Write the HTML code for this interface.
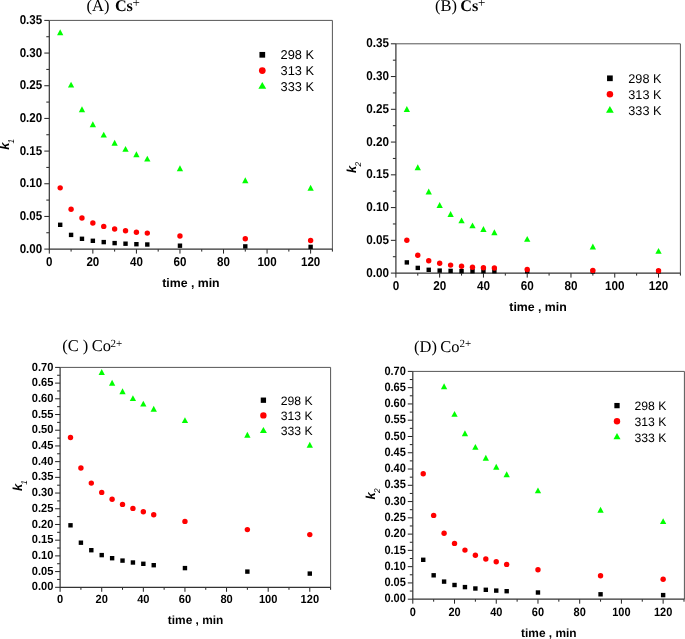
<!DOCTYPE html>
<html><head><meta charset="utf-8"><style>
html,body{margin:0;padding:0;background:#fff;}
svg{display:block;will-change:transform;text-rendering:geometricPrecision;}
</style></head><body>
<svg width="685" height="639" viewBox="0 0 685 639">
<rect width="685" height="639" fill="#fff"/>
<g><path d="M49.3 20.4H332.4V249.1" fill="none" stroke="#555" stroke-width="1"/>
<path d="M44.3 249.1H49.3M46.3 232.76H49.3M44.3 216.43H49.3M46.3 200.09H49.3M44.3 183.76H49.3M46.3 167.42H49.3M44.3 151.09H49.3M46.3 134.75H49.3M44.3 118.41H49.3M46.3 102.08H49.3M44.3 85.74H49.3M46.3 69.41H49.3M44.3 53.07H49.3M46.3 36.74H49.3M44.3 20.4H49.3M49.3 249.1V253.6M71.08 249.1V251.6M92.85 249.1V253.6M114.63 249.1V251.6M136.41 249.1V253.6M158.18 249.1V251.6M179.96 249.1V253.6M201.74 249.1V251.6M223.52 249.1V253.6M245.29 249.1V251.6M267.07 249.1V253.6M288.85 249.1V251.6M310.62 249.1V253.6M332.4 249.1V251.6" stroke="#222" stroke-width="1"/>
<path d="M49.3 20.4V249.1H332.4" fill="none" stroke="#333" stroke-width="1.2"/>
<g font-family='"Liberation Sans", sans-serif' font-weight="bold" font-size="11.6" text-anchor="end"><text transform="translate(42.25 252.57) scale(1 1.1)">0.00</text><text transform="translate(42.25 219.89) scale(1 1.1)">0.05</text><text transform="translate(42.25 187.22) scale(1 1.1)">0.10</text><text transform="translate(42.25 154.55) scale(1 1.1)">0.15</text><text transform="translate(42.25 121.88) scale(1 1.1)">0.20</text><text transform="translate(42.25 89.21) scale(1 1.1)">0.25</text><text transform="translate(42.25 56.54) scale(1 1.1)">0.30</text><text transform="translate(42.25 23.87) scale(1 1.1)">0.35</text></g>
<g font-family='"Liberation Sans", sans-serif' font-weight="bold" font-size="11.6" text-anchor="middle"><text transform="translate(49.3 265.57) scale(1 1.1)">0</text><text transform="translate(92.85 265.57) scale(1 1.1)">20</text><text transform="translate(136.41 265.57) scale(1 1.1)">40</text><text transform="translate(179.96 265.57) scale(1 1.1)">60</text><text transform="translate(223.52 265.57) scale(1 1.1)">80</text><text transform="translate(267.07 265.57) scale(1 1.1)">100</text><text transform="translate(310.62 265.57) scale(1 1.1)">120</text></g>
<rect x="57.99" y="222.6" width="4.4" height="4.4" fill="#000"/>
<rect x="68.88" y="232.7" width="4.4" height="4.4" fill="#000"/>
<rect x="79.77" y="236.6" width="4.4" height="4.4" fill="#000"/>
<rect x="90.65" y="238.6" width="4.4" height="4.4" fill="#000"/>
<rect x="101.54" y="239.9" width="4.4" height="4.4" fill="#000"/>
<rect x="112.43" y="240.9" width="4.4" height="4.4" fill="#000"/>
<rect x="123.32" y="241.5" width="4.4" height="4.4" fill="#000"/>
<rect x="134.21" y="242" width="4.4" height="4.4" fill="#000"/>
<rect x="145.1" y="242.3" width="4.4" height="4.4" fill="#000"/>
<rect x="177.76" y="243.5" width="4.4" height="4.4" fill="#000"/>
<rect x="243.09" y="244.2" width="4.4" height="4.4" fill="#000"/>
<rect x="308.42" y="244.7" width="4.4" height="4.4" fill="#000"/>
<circle cx="60.19" cy="187.85" r="2.7" fill="#f00"/>
<circle cx="71.08" cy="209.2" r="2.7" fill="#f00"/>
<circle cx="81.97" cy="218" r="2.7" fill="#f00"/>
<circle cx="92.85" cy="223" r="2.7" fill="#f00"/>
<circle cx="103.74" cy="226.4" r="2.7" fill="#f00"/>
<circle cx="114.63" cy="229" r="2.7" fill="#f00"/>
<circle cx="125.52" cy="230.7" r="2.7" fill="#f00"/>
<circle cx="136.41" cy="232.2" r="2.7" fill="#f00"/>
<circle cx="147.3" cy="233.1" r="2.7" fill="#f00"/>
<circle cx="179.96" cy="236" r="2.7" fill="#f00"/>
<circle cx="245.29" cy="238.7" r="2.7" fill="#f00"/>
<circle cx="310.62" cy="240.5" r="2.7" fill="#f00"/>
<path d="M60.19 29.35L63.34 35.25L57.04 35.25Z" fill="#0f0"/>
<path d="M71.08 81.65L74.23 87.55L67.93 87.55Z" fill="#0f0"/>
<path d="M81.97 106.35L85.12 112.25L78.82 112.25Z" fill="#0f0"/>
<path d="M92.85 121.25L96 127.15L89.7 127.15Z" fill="#0f0"/>
<path d="M103.74 131.65L106.89 137.55L100.59 137.55Z" fill="#0f0"/>
<path d="M114.63 139.75L117.78 145.65L111.48 145.65Z" fill="#0f0"/>
<path d="M125.52 145.95L128.67 151.85L122.37 151.85Z" fill="#0f0"/>
<path d="M136.41 151.35L139.56 157.25L133.26 157.25Z" fill="#0f0"/>
<path d="M147.3 155.65L150.45 161.55L144.15 161.55Z" fill="#0f0"/>
<path d="M179.96 165.35L183.11 171.25L176.81 171.25Z" fill="#0f0"/>
<path d="M245.29 177.25L248.44 183.15L242.14 183.15Z" fill="#0f0"/>
<path d="M310.62 184.75L313.77 190.65L307.47 190.65Z" fill="#0f0"/>
<rect x="259.45" y="51.95" width="5.7" height="5.7" fill="#000"/>
<circle cx="262.3" cy="70.6" r="3.35" fill="#f00"/>
<path d="M262.3 82L266.2 88.8L258.4 88.8Z" fill="#0f0"/>
<g font-family='"Liberation Sans", sans-serif' font-size="12.8" fill="#000"><text x="280.6" y="59.3">298 K</text><text x="280.6" y="75.4">313 K</text><text x="280.6" y="91.4">333 K</text></g>
<text x="86.6" y="11.3" font-family='"Liberation Serif", serif' font-weight="normal" font-size="16.5">(A)</text>
<text x="114.9" y="11.3" font-family='"Liberation Serif", serif' font-weight="bold" font-size="16.2">Cs</text>
<text x="132.6" y="7" font-family='"Liberation Serif", serif' font-size="13">+</text>
<text x="162.2" y="286.8" font-family='"Liberation Sans", sans-serif' font-weight="bold" font-size="12.3">time , min</text>
<text transform="translate(9.4 149.8) rotate(-90)" font-family='"Liberation Sans", sans-serif' font-weight="bold" font-style="italic" font-size="13">k<tspan font-size="8.4" font-weight="normal" dx="-0.9" dy="4.9">1</tspan></text></g>
<g><path d="M395.9 43.8H680.4V273.1" fill="none" stroke="#555" stroke-width="1"/>
<path d="M390.9 273.1H395.9M392.9 256.72H395.9M390.9 240.34H395.9M392.9 223.96H395.9M390.9 207.59H395.9M392.9 191.21H395.9M390.9 174.83H395.9M392.9 158.45H395.9M390.9 142.07H395.9M392.9 125.69H395.9M390.9 109.31H395.9M392.9 92.94H395.9M390.9 76.56H395.9M392.9 60.18H395.9M390.9 43.8H395.9M395.9 273.1V277.6M417.78 273.1V275.6M439.67 273.1V277.6M461.55 273.1V275.6M483.44 273.1V277.6M505.32 273.1V275.6M527.21 273.1V277.6M549.09 273.1V275.6M570.98 273.1V277.6M592.86 273.1V275.6M614.75 273.1V277.6M636.63 273.1V275.6M658.52 273.1V277.6M680.4 273.1V275.6" stroke="#222" stroke-width="1"/>
<path d="M395.9 43.8V273.1H680.4" fill="none" stroke="#333" stroke-width="1.2"/>
<g font-family='"Liberation Sans", sans-serif' font-weight="bold" font-size="11.7" text-anchor="end"><text transform="translate(388.95 276.6) scale(1 1.1)">0.00</text><text transform="translate(388.95 243.85) scale(1 1.1)">0.05</text><text transform="translate(388.95 211.09) scale(1 1.1)">0.10</text><text transform="translate(388.95 178.33) scale(1 1.1)">0.15</text><text transform="translate(388.95 145.58) scale(1 1.1)">0.20</text><text transform="translate(388.95 112.82) scale(1 1.1)">0.25</text><text transform="translate(388.95 80.06) scale(1 1.1)">0.30</text><text transform="translate(388.95 47.3) scale(1 1.1)">0.35</text></g>
<g font-family='"Liberation Sans", sans-serif' font-weight="bold" font-size="11.7" text-anchor="middle"><text transform="translate(395.9 289.7) scale(1 1.1)">0</text><text transform="translate(439.67 289.7) scale(1 1.1)">20</text><text transform="translate(483.44 289.7) scale(1 1.1)">40</text><text transform="translate(527.21 289.7) scale(1 1.1)">60</text><text transform="translate(570.98 289.7) scale(1 1.1)">80</text><text transform="translate(614.75 289.7) scale(1 1.1)">100</text><text transform="translate(658.52 289.7) scale(1 1.1)">120</text></g>
<rect x="404.64" y="260.2" width="4.4" height="4.4" fill="#000"/>
<rect x="415.58" y="265.7" width="4.4" height="4.4" fill="#000"/>
<rect x="426.53" y="267.6" width="4.4" height="4.4" fill="#000"/>
<rect x="437.47" y="268.4" width="4.4" height="4.4" fill="#000"/>
<rect x="448.41" y="268.7" width="4.4" height="4.4" fill="#000"/>
<rect x="459.35" y="269" width="4.4" height="4.4" fill="#000"/>
<rect x="470.3" y="269" width="4.4" height="4.4" fill="#000"/>
<rect x="481.24" y="269" width="4.4" height="4.4" fill="#000"/>
<rect x="492.18" y="269" width="4.4" height="4.4" fill="#000"/>
<rect x="525.01" y="269.1" width="4.4" height="4.4" fill="#000"/>
<rect x="590.66" y="269.2" width="4.4" height="4.4" fill="#000"/>
<rect x="656.32" y="269.2" width="4.4" height="4.4" fill="#000"/>
<circle cx="406.84" cy="240.3" r="2.7" fill="#f00"/>
<circle cx="417.78" cy="255.2" r="2.7" fill="#f00"/>
<circle cx="428.73" cy="260.7" r="2.7" fill="#f00"/>
<circle cx="439.67" cy="263.2" r="2.7" fill="#f00"/>
<circle cx="450.61" cy="265.1" r="2.7" fill="#f00"/>
<circle cx="461.55" cy="266.3" r="2.7" fill="#f00"/>
<circle cx="472.5" cy="267.2" r="2.7" fill="#f00"/>
<circle cx="483.44" cy="267.7" r="2.7" fill="#f00"/>
<circle cx="494.38" cy="268" r="2.7" fill="#f00"/>
<circle cx="527.21" cy="269.5" r="2.7" fill="#f00"/>
<circle cx="592.86" cy="270.4" r="2.7" fill="#f00"/>
<circle cx="658.52" cy="270.7" r="2.7" fill="#f00"/>
<path d="M406.84 106.05L409.99 111.95L403.69 111.95Z" fill="#0f0"/>
<path d="M417.78 164.35L420.93 170.25L414.63 170.25Z" fill="#0f0"/>
<path d="M428.73 188.55L431.88 194.45L425.58 194.45Z" fill="#0f0"/>
<path d="M439.67 202.05L442.82 207.95L436.52 207.95Z" fill="#0f0"/>
<path d="M450.61 211.05L453.76 216.95L447.46 216.95Z" fill="#0f0"/>
<path d="M461.55 217.45L464.7 223.35L458.4 223.35Z" fill="#0f0"/>
<path d="M472.5 222.45L475.65 228.35L469.35 228.35Z" fill="#0f0"/>
<path d="M483.44 226.05L486.59 231.95L480.29 231.95Z" fill="#0f0"/>
<path d="M494.38 229.35L497.53 235.25L491.23 235.25Z" fill="#0f0"/>
<path d="M527.21 235.95L530.36 241.85L524.06 241.85Z" fill="#0f0"/>
<path d="M592.86 243.55L596.01 249.45L589.71 249.45Z" fill="#0f0"/>
<path d="M658.52 247.95L661.67 253.85L655.37 253.85Z" fill="#0f0"/>
<rect x="607.05" y="75.45" width="5.7" height="5.7" fill="#000"/>
<circle cx="609.9" cy="94.2" r="3.25" fill="#f00"/>
<path d="M609.9 105.95L613.75 112.65L606.05 112.65Z" fill="#0f0"/>
<g font-family='"Liberation Sans", sans-serif' font-size="12.7" fill="#000"><text x="628.3" y="83.2">298 K</text><text x="628.3" y="99">313 K</text><text x="628.3" y="114.7">333 K</text></g>
<text x="435" y="11.3" font-family='"Liberation Serif", serif' font-weight="normal" font-size="16.5">(B)</text>
<text x="460.2" y="11.3" font-family='"Liberation Serif", serif' font-weight="bold" font-size="16.2">Cs</text>
<text x="477.9" y="7" font-family='"Liberation Serif", serif' font-size="13">+</text>
<text x="509.3" y="311" font-family='"Liberation Sans", sans-serif' font-weight="bold" font-size="12.3">time , min</text>
<text transform="translate(356.4 172.9) rotate(-90)" font-family='"Liberation Sans", sans-serif' font-weight="bold" font-style="italic" font-size="13">k<tspan font-size="8.4" font-weight="normal" dx="-0.9" dy="4.9">2</tspan></text></g>
<g><path d="M60.1 367.4H330.6V587.3" fill="none" stroke="#555" stroke-width="1"/>
<path d="M55.1 587.3H60.1M57.1 579.45H60.1M55.1 571.59H60.1M57.1 563.74H60.1M55.1 555.89H60.1M57.1 548.03H60.1M55.1 540.18H60.1M57.1 532.32H60.1M55.1 524.47H60.1M57.1 516.62H60.1M55.1 508.76H60.1M57.1 500.91H60.1M55.1 493.06H60.1M57.1 485.2H60.1M55.1 477.35H60.1M57.1 469.5H60.1M55.1 461.64H60.1M57.1 453.79H60.1M55.1 445.94H60.1M57.1 438.08H60.1M55.1 430.23H60.1M57.1 422.38H60.1M55.1 414.52H60.1M57.1 406.67H60.1M55.1 398.81H60.1M57.1 390.96H60.1M55.1 383.11H60.1M57.1 375.25H60.1M55.1 367.4H60.1M60.1 587.3V591.8M80.91 587.3V589.8M101.72 587.3V591.8M122.52 587.3V589.8M143.33 587.3V591.8M164.14 587.3V589.8M184.95 587.3V591.8M205.75 587.3V589.8M226.56 587.3V591.8M247.37 587.3V589.8M268.18 587.3V591.8M288.98 587.3V589.8M309.79 587.3V591.8M330.6 587.3V589.8" stroke="#222" stroke-width="1"/>
<path d="M60.1 367.4V587.3H330.6" fill="none" stroke="#333" stroke-width="1.2"/>
<g font-family='"Liberation Sans", sans-serif' font-weight="bold" font-size="11.1" text-anchor="end"><text transform="translate(53.33 590.42) scale(1 1.06)">0.00</text><text transform="translate(53.33 574.71) scale(1 1.06)">0.05</text><text transform="translate(53.33 559) scale(1 1.06)">0.10</text><text transform="translate(53.33 543.3) scale(1 1.06)">0.15</text><text transform="translate(53.33 527.59) scale(1 1.06)">0.20</text><text transform="translate(53.33 511.88) scale(1 1.06)">0.25</text><text transform="translate(53.33 496.18) scale(1 1.06)">0.30</text><text transform="translate(53.33 480.47) scale(1 1.06)">0.35</text><text transform="translate(53.33 464.76) scale(1 1.06)">0.40</text><text transform="translate(53.33 449.05) scale(1 1.06)">0.45</text><text transform="translate(53.33 433.35) scale(1 1.06)">0.50</text><text transform="translate(53.33 417.64) scale(1 1.06)">0.55</text><text transform="translate(53.33 401.93) scale(1 1.06)">0.60</text><text transform="translate(53.33 386.23) scale(1 1.06)">0.65</text><text transform="translate(53.33 370.52) scale(1 1.06)">0.70</text></g>
<g font-family='"Liberation Sans", sans-serif' font-weight="bold" font-size="11.1" text-anchor="middle"><text transform="translate(60.1 603.32) scale(1 1.06)">0</text><text transform="translate(101.72 603.32) scale(1 1.06)">20</text><text transform="translate(143.33 603.32) scale(1 1.06)">40</text><text transform="translate(184.95 603.32) scale(1 1.06)">60</text><text transform="translate(226.56 603.32) scale(1 1.06)">80</text><text transform="translate(268.18 603.32) scale(1 1.06)">100</text><text transform="translate(309.79 603.32) scale(1 1.06)">120</text></g>
<rect x="68.3" y="523.1" width="4.4" height="4.4" fill="#000"/>
<rect x="78.71" y="540.5" width="4.4" height="4.4" fill="#000"/>
<rect x="89.11" y="548" width="4.4" height="4.4" fill="#000"/>
<rect x="99.52" y="552.9" width="4.4" height="4.4" fill="#000"/>
<rect x="109.92" y="556" width="4.4" height="4.4" fill="#000"/>
<rect x="120.32" y="558.4" width="4.4" height="4.4" fill="#000"/>
<rect x="130.73" y="560.3" width="4.4" height="4.4" fill="#000"/>
<rect x="141.13" y="561.6" width="4.4" height="4.4" fill="#000"/>
<rect x="151.53" y="563" width="4.4" height="4.4" fill="#000"/>
<rect x="182.75" y="565.9" width="4.4" height="4.4" fill="#000"/>
<rect x="245.17" y="569.4" width="4.4" height="4.4" fill="#000"/>
<rect x="307.59" y="571.4" width="4.4" height="4.4" fill="#000"/>
<circle cx="70.5" cy="437.5" r="2.7" fill="#f00"/>
<circle cx="80.91" cy="468" r="2.7" fill="#f00"/>
<circle cx="91.31" cy="483.1" r="2.7" fill="#f00"/>
<circle cx="101.72" cy="492.4" r="2.7" fill="#f00"/>
<circle cx="112.12" cy="499.3" r="2.7" fill="#f00"/>
<circle cx="122.52" cy="504.4" r="2.7" fill="#f00"/>
<circle cx="132.93" cy="508.4" r="2.7" fill="#f00"/>
<circle cx="143.33" cy="511.8" r="2.7" fill="#f00"/>
<circle cx="153.73" cy="514.8" r="2.7" fill="#f00"/>
<circle cx="184.95" cy="521.4" r="2.7" fill="#f00"/>
<circle cx="247.37" cy="529.6" r="2.7" fill="#f00"/>
<circle cx="309.79" cy="534.6" r="2.7" fill="#f00"/>
<path d="M101.72 369.05L104.87 374.95L98.57 374.95Z" fill="#0f0"/>
<path d="M112.12 379.75L115.27 385.65L108.97 385.65Z" fill="#0f0"/>
<path d="M122.52 388.25L125.67 394.15L119.37 394.15Z" fill="#0f0"/>
<path d="M132.93 395.15L136.08 401.05L129.78 401.05Z" fill="#0f0"/>
<path d="M143.33 400.65L146.48 406.55L140.18 406.55Z" fill="#0f0"/>
<path d="M153.73 405.75L156.88 411.65L150.58 411.65Z" fill="#0f0"/>
<path d="M184.95 417.15L188.1 423.05L181.8 423.05Z" fill="#0f0"/>
<path d="M247.37 431.75L250.52 437.65L244.22 437.65Z" fill="#0f0"/>
<path d="M309.79 441.75L312.94 447.65L306.64 447.65Z" fill="#0f0"/>
<rect x="260.75" y="397.55" width="5.3" height="5.3" fill="#000"/>
<circle cx="263.4" cy="415.4" r="3.2" fill="#f00"/>
<path d="M263.4 426.9L266.9 433.1L259.9 433.1Z" fill="#0f0"/>
<g font-family='"Liberation Sans", sans-serif' font-size="12.2" fill="#000"><text x="280.7" y="405">298 K</text><text x="280.7" y="420.1">313 K</text><text x="280.7" y="434.9">333 K</text></g>
<text x="62.2" y="351.4" font-family='"Liberation Serif", serif' font-weight="normal" font-size="16.5">(C )</text>
<text x="91.8" y="351.4" font-family='"Liberation Serif", serif' font-weight="normal" font-size="16.5">Co</text>
<text x="110.6" y="346.9" font-family='"Liberation Serif", serif' font-size="11">2+</text>
<text x="167.8" y="623.7" font-family='"Liberation Sans", sans-serif' font-weight="bold" font-size="11.9">time , min</text>
<text transform="translate(22.2 491) rotate(-90)" font-family='"Liberation Sans", sans-serif' font-weight="bold" font-style="italic" font-size="13">k<tspan font-size="8.4" font-weight="normal" dx="-0.9" dy="4.9">1</tspan></text></g>
<g><path d="M412.8 371.4H684.4V599.2" fill="none" stroke="#555" stroke-width="1"/>
<path d="M407.8 599.2H412.8M409.8 591.06H412.8M407.8 582.93H412.8M409.8 574.79H412.8M407.8 566.66H412.8M409.8 558.52H412.8M407.8 550.39H412.8M409.8 542.25H412.8M407.8 534.11H412.8M409.8 525.98H412.8M407.8 517.84H412.8M409.8 509.71H412.8M407.8 501.57H412.8M409.8 493.44H412.8M407.8 485.3H412.8M409.8 477.16H412.8M407.8 469.03H412.8M409.8 460.89H412.8M407.8 452.76H412.8M409.8 444.62H412.8M407.8 436.49H412.8M409.8 428.35H412.8M407.8 420.21H412.8M409.8 412.08H412.8M407.8 403.94H412.8M409.8 395.81H412.8M407.8 387.67H412.8M409.8 379.54H412.8M407.8 371.4H412.8M412.8 599.2V603.7M433.66 599.2V601.7M454.52 599.2V603.7M475.38 599.2V601.7M496.25 599.2V603.7M517.11 599.2V601.7M537.97 599.2V603.7M558.83 599.2V601.7M579.69 599.2V603.7M600.55 599.2V601.7M621.42 599.2V603.7M642.28 599.2V601.7M663.14 599.2V603.7M684 599.2V601.7" stroke="#222" stroke-width="1"/>
<path d="M412.8 371.4V599.2H684.4" fill="none" stroke="#333" stroke-width="1.2"/>
<g font-family='"Liberation Sans", sans-serif' font-weight="bold" font-size="11" text-anchor="end"><text transform="translate(405.83 602.34) scale(1 1.1)">0.00</text><text transform="translate(405.83 586.06) scale(1 1.1)">0.05</text><text transform="translate(405.83 569.79) scale(1 1.1)">0.10</text><text transform="translate(405.83 553.52) scale(1 1.1)">0.15</text><text transform="translate(405.83 537.25) scale(1 1.1)">0.20</text><text transform="translate(405.83 520.98) scale(1 1.1)">0.25</text><text transform="translate(405.83 504.71) scale(1 1.1)">0.30</text><text transform="translate(405.83 488.43) scale(1 1.1)">0.35</text><text transform="translate(405.83 472.16) scale(1 1.1)">0.40</text><text transform="translate(405.83 455.89) scale(1 1.1)">0.45</text><text transform="translate(405.83 439.62) scale(1 1.1)">0.50</text><text transform="translate(405.83 423.35) scale(1 1.1)">0.55</text><text transform="translate(405.83 407.08) scale(1 1.1)">0.60</text><text transform="translate(405.83 390.81) scale(1 1.1)">0.65</text><text transform="translate(405.83 374.53) scale(1 1.1)">0.70</text></g>
<g font-family='"Liberation Sans", sans-serif' font-weight="bold" font-size="11" text-anchor="middle"><text transform="translate(412.8 615.53) scale(1 1.1)">0</text><text transform="translate(454.52 615.53) scale(1 1.1)">20</text><text transform="translate(496.25 615.53) scale(1 1.1)">40</text><text transform="translate(537.97 615.53) scale(1 1.1)">60</text><text transform="translate(579.69 615.53) scale(1 1.1)">80</text><text transform="translate(621.42 615.53) scale(1 1.1)">100</text><text transform="translate(663.14 615.53) scale(1 1.1)">120</text></g>
<rect x="421.03" y="557.6" width="4.4" height="4.4" fill="#000"/>
<rect x="431.46" y="573.1" width="4.4" height="4.4" fill="#000"/>
<rect x="441.89" y="579.4" width="4.4" height="4.4" fill="#000"/>
<rect x="452.32" y="582.8" width="4.4" height="4.4" fill="#000"/>
<rect x="462.75" y="584.9" width="4.4" height="4.4" fill="#000"/>
<rect x="473.18" y="586.3" width="4.4" height="4.4" fill="#000"/>
<rect x="483.62" y="587.6" width="4.4" height="4.4" fill="#000"/>
<rect x="494.05" y="588.4" width="4.4" height="4.4" fill="#000"/>
<rect x="504.48" y="589" width="4.4" height="4.4" fill="#000"/>
<rect x="535.77" y="590.3" width="4.4" height="4.4" fill="#000"/>
<rect x="598.35" y="592.1" width="4.4" height="4.4" fill="#000"/>
<rect x="660.94" y="592.9" width="4.4" height="4.4" fill="#000"/>
<circle cx="423.23" cy="473.8" r="2.7" fill="#f00"/>
<circle cx="433.66" cy="515.4" r="2.7" fill="#f00"/>
<circle cx="444.09" cy="533.3" r="2.7" fill="#f00"/>
<circle cx="454.52" cy="543.4" r="2.7" fill="#f00"/>
<circle cx="464.95" cy="550.1" r="2.7" fill="#f00"/>
<circle cx="475.38" cy="555.3" r="2.7" fill="#f00"/>
<circle cx="485.82" cy="559" r="2.7" fill="#f00"/>
<circle cx="496.25" cy="561.8" r="2.7" fill="#f00"/>
<circle cx="506.68" cy="564.4" r="2.7" fill="#f00"/>
<circle cx="537.97" cy="569.7" r="2.7" fill="#f00"/>
<circle cx="600.55" cy="575.8" r="2.7" fill="#f00"/>
<circle cx="663.14" cy="579.3" r="2.7" fill="#f00"/>
<path d="M444.09 383.35L447.24 389.25L440.94 389.25Z" fill="#0f0"/>
<path d="M454.52 410.95L457.67 416.85L451.37 416.85Z" fill="#0f0"/>
<path d="M464.95 430.25L468.1 436.15L461.8 436.15Z" fill="#0f0"/>
<path d="M475.38 443.95L478.53 449.85L472.23 449.85Z" fill="#0f0"/>
<path d="M485.82 454.85L488.97 460.75L482.67 460.75Z" fill="#0f0"/>
<path d="M496.25 463.85L499.4 469.75L493.1 469.75Z" fill="#0f0"/>
<path d="M506.68 471.35L509.83 477.25L503.53 477.25Z" fill="#0f0"/>
<path d="M537.97 487.45L541.12 493.35L534.82 493.35Z" fill="#0f0"/>
<path d="M600.55 506.75L603.7 512.65L597.4 512.65Z" fill="#0f0"/>
<path d="M663.14 518.15L666.29 524.05L659.99 524.05Z" fill="#0f0"/>
<rect x="614.35" y="402.95" width="5.3" height="5.3" fill="#000"/>
<circle cx="617" cy="421.2" r="3.2" fill="#f00"/>
<path d="M617 433.1L620.5 439.3L613.5 439.3Z" fill="#0f0"/>
<g font-family='"Liberation Sans", sans-serif' font-size="12.2" fill="#000"><text x="634.5" y="410">298 K</text><text x="634.5" y="426.2">313 K</text><text x="634.5" y="441.5">333 K</text></g>
<text x="414.1" y="351.6" font-family='"Liberation Serif", serif' font-weight="normal" font-size="16.5">(D)</text>
<text x="440.3" y="351.6" font-family='"Liberation Serif", serif' font-weight="normal" font-size="16.5">Co</text>
<text x="459.5" y="347.1" font-family='"Liberation Serif", serif' font-size="11">2+</text>
<text x="521.1" y="636.6" font-family='"Liberation Sans", sans-serif' font-weight="bold" font-size="11.9">time , min</text>
<text transform="translate(375.1 499.4) rotate(-90)" font-family='"Liberation Sans", sans-serif' font-weight="bold" font-style="italic" font-size="13">k<tspan font-size="8.4" font-weight="normal" dx="-0.9" dy="4.9">2</tspan></text></g>
</svg>
</body></html>
